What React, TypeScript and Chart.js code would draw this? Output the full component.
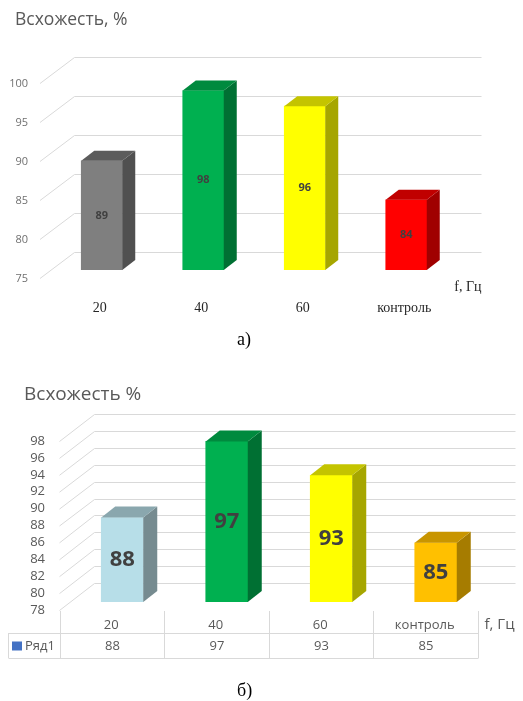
import React, { useEffect, useRef } from 'react';
import { Chart, registerables } from 'chart.js';

Chart.register(...registerables);

// ---------- data ----------
const categories = ['20', '40', '60', 'контроль'];
const valuesA = [89, 98, 96, 84];
const valuesB = [88, 97, 93, 85];
const yMinA = 75;
const yMaxA = 100;
const yStepA = 5;
const yMinB = 78;
const yMaxB = 98;
const yStepB = 2;
const titleA = 'Всхожесть, %';
const titleB = 'Всхожесть %';
const axisUnit = 'f, Гц';
const seriesName = 'Ряд1';
const captionA = 'а)';
const captionB = 'б)';

// ---------- styles ----------
const frontA = ['#7f7f7f', '#00b050', '#ffff00', '#ff0000'];
const sideA = ['#505050', '#007033', '#a6a600', '#a00000'];
const topA = ['#5c5c5c', '#008a3e', '#c4c400', '#c00000'];
const frontB = ['#b7dee8', '#00b050', '#ffff00', '#ffc000'];
const sideB = ['#768b90', '#007033', '#a6a600', '#a67c00'];
const topB = ['#8aa7ae', '#008a3e', '#c4c400', '#c89500'];

const SANS = '"Open Sans", "Noto Sans", "DejaVu Sans", sans-serif';
const SERIF = '"Liberation Serif", "DejaVu Serif", serif';

type Geo = {
  backDx: number; backDy: number; frontDx: number; frontDy: number;
  depthDx: number; depthDy: number; rightExtra: number;
};

function make3DPlugin(id: string, geo: Geo, sides: string[], tops: string[], labelFont: string, extraDraw?: (chart: any) => void) {
  return {
    id,
    beforeDatasetsDraw(chart: any) {
      const { ctx, chartArea } = chart;
      const y = chart.scales.y;
      ctx.save();
      ctx.strokeStyle = '#d9d9d9';
      ctx.lineWidth = 1;
      y.ticks.forEach((t: any) => {
        const py = y.getPixelForValue(t.value);
        const bx0 = chartArea.left + geo.backDx;
        const by = Math.round(py + geo.backDy) + 0.5;
        ctx.beginPath();
        ctx.moveTo(bx0, by);
        ctx.lineTo(chartArea.right + geo.backDx + geo.rightExtra, by);
        ctx.stroke();
        ctx.beginPath();
        ctx.moveTo(chartArea.left + geo.frontDx, py + geo.frontDy);
        ctx.lineTo(bx0, by);
        ctx.stroke();
      });
      ctx.restore();
    },
    afterDatasetsDraw(chart: any) {
      const { ctx } = chart;
      const meta = chart.getDatasetMeta(0);
      const data = chart.data.datasets[0].data;
      ctx.save();
      meta.data.forEach((bar: any, i: number) => {
        const { x, y, base, width } = bar.getProps(['x', 'y', 'base', 'width'], true);
        const l = x - width / 2;
        const r = x + width / 2;
        // side face
        ctx.fillStyle = sides[i];
        ctx.beginPath();
        ctx.moveTo(r, y);
        ctx.lineTo(r + geo.depthDx, y + geo.depthDy);
        ctx.lineTo(r + geo.depthDx, base + geo.depthDy);
        ctx.lineTo(r, base);
        ctx.closePath();
        ctx.fill();
        // top face
        ctx.fillStyle = tops[i];
        ctx.beginPath();
        ctx.moveTo(l, y);
        ctx.lineTo(l + geo.depthDx, y + geo.depthDy);
        ctx.lineTo(r + geo.depthDx, y + geo.depthDy);
        ctx.lineTo(r, y);
        ctx.closePath();
        ctx.fill();
        // value label
        ctx.fillStyle = '#404040';
        ctx.font = labelFont;
        ctx.textAlign = 'center';
        ctx.textBaseline = 'middle';
        ctx.fillText(String(data[i]), x, (y + base) / 2);
      });
      ctx.restore();
      if (extraDraw) extraDraw(chart);
    },
  };
}

function buildConfig(p: {
  values: number[]; fronts: string[]; sides: string[]; tops: string[];
  yMin: number; yMax: number; yStep: number; barW: number;
  pad: { top: number; right: number; bottom: number };
  yWidth: number; xHeight: number;
  yFont: any; yColor: string; yPad: number; yLabelOffset: number;
  xFont: any; xColor: string; xPad: number; xLabelOffset: number;
  geo: Geo; labelFont: string; extraDraw: (chart: any) => void; id: string;
}) {
  return {
    type: 'bar' as const,
    data: {
      labels: categories,
      datasets: [{
        data: p.values,
        base: p.yMin,
        backgroundColor: p.fronts,
        borderWidth: 0,
        barThickness: p.barW,
      }],
    },
    options: {
      responsive: false,
      animation: false as const,
      devicePixelRatio: 1,
      layout: { padding: { top: p.pad.top, right: p.pad.right, bottom: p.pad.bottom, left: 0 } },
      plugins: {
        legend: { display: false },
        tooltip: { enabled: false },
        title: { display: false },
      },
      scales: {
        x: {
          grid: { display: false, drawTicks: false },
          border: { display: false },
          ticks: {
            font: p.xFont, color: p.xColor, padding: p.xPad, labelOffset: p.xLabelOffset,
            maxRotation: 0, autoSkip: false,
          },
          afterFit: (s: any) => { s.height = p.xHeight; },
        },
        y: {
          min: p.yMin,
          max: p.yMax,
          grid: { display: false, drawTicks: false },
          border: { display: false },
          ticks: {
            stepSize: p.yStep, font: p.yFont, color: p.yColor, padding: p.yPad,
            labelOffset: p.yLabelOffset, autoSkip: false,
          },
          afterFit: (s: any) => { s.width = p.yWidth; },
        },
      },
    },
    plugins: [make3DPlugin(p.id, p.geo, p.sides, p.tops, p.labelFont, p.extraDraw)],
  };
}

const geoA: Geo = { backDx: 23.5, backDy: -18, frontDx: -11, frontDy: 8.5, depthDx: 13, depthDy: -10, rightExtra: 1 };
const geoB: Geo = { backDx: 24.5, backDy: -19, frontDx: -10.5, frontDy: 8.5, depthDx: 14, depthDy: -11, rightExtra: 3 };

function drawExtrasA(chart: any) {
  const { ctx, chartArea } = chart;
  ctx.save();
  ctx.fillStyle = '#595959';
  ctx.font = `17.5px ${SANS}`;
  ctx.textAlign = 'left';
  ctx.textBaseline = 'middle';
  ctx.fillText(titleA, 15, 20);
  ctx.fillStyle = '#262626';
  ctx.font = `14px ${SERIF}`;
  ctx.textAlign = 'right';
  ctx.fillText(axisUnit, chartArea.right + geoA.backDx + geoA.rightExtra, chartArea.bottom + 17);
  ctx.restore();
}

function drawExtrasB(chart: any) {
  const { ctx, chartArea } = chart;
  const x = chart.scales.x;
  const y = chart.scales.y;
  const n = categories.length;
  const bw = (chartArea.right - chartArea.left) / n;
  const top = Math.round(y.getPixelForValue(yMinB) + geoB.frontDy);
  const row1 = 22;
  const row2 = 25;
  const tableLeft = 8.5;
  const colX = (i: number) => Math.round(x.getPixelForValue(0) - bw / 2 + i * bw + geoB.frontDx) + 0.5;
  ctx.save();
  // title
  ctx.fillStyle = '#595959';
  ctx.font = `19px ${SANS}`;
  ctx.textAlign = 'left';
  ctx.textBaseline = 'middle';
  ctx.fillText(titleB, 24, 35);
  // table lines
  ctx.strokeStyle = '#d9d9d9';
  ctx.lineWidth = 1;
  ctx.beginPath();
  for (let i = 0; i <= n; i++) {
    ctx.moveTo(colX(i), top);
    ctx.lineTo(colX(i), top + row1 + row2);
  }
  ctx.moveTo(tableLeft, top + row1 + 0.5);
  ctx.lineTo(colX(n), top + row1 + 0.5);
  ctx.moveTo(tableLeft, top + row1 + row2 + 0.5);
  ctx.lineTo(colX(n), top + row1 + row2 + 0.5);
  ctx.moveTo(tableLeft, top + row1);
  ctx.lineTo(tableLeft, top + row1 + row2);
  ctx.stroke();
  // series row
  const ry = top + row1 + row2 / 2 + 0.5;
  ctx.fillStyle = '#4472c4';
  ctx.fillRect(12, ry - 4.5, 10, 9);
  ctx.fillStyle = '#595959';
  ctx.font = `13px ${SANS}`;
  ctx.textAlign = 'left';
  ctx.fillText(seriesName, 25, ry);
  ctx.textAlign = 'center';
  valuesB.forEach((v, i) => {
    ctx.fillText(String(v), (colX(i) + colX(i + 1)) / 2, ry);
  });
  // unit label
  ctx.font = `15px ${SANS}`;
  ctx.textAlign = 'left';
  ctx.fillText(axisUnit, colX(n) + 6, top + row1 / 2 + 3);
  ctx.restore();
}

function ChartCanvas({ config, top, height }: { config: any; top: number; height: number }) {
  const ref = useRef<HTMLCanvasElement | null>(null);
  useEffect(() => {
    if (!ref.current) return;
    const chart = new Chart(ref.current, config);
    return () => chart.destroy();
  }, [config]);
  return (
    <canvas
      ref={ref}
      width={523}
      height={height}
      style={{ position: 'absolute', left: 0, top, width: 523, height }}
    />
  );
}

const configA = buildConfig({
  id: 'a3d',
  values: valuesA, fronts: frontA, sides: sideA, tops: topA,
  yMin: yMinA, yMax: yMaxA, yStep: yStepA, barW: 41,
  pad: { top: 75, right: 66, bottom: 0 },
  yWidth: 51, xHeight: 60,
  yFont: { family: SANS, size: 11 }, yColor: '#707070', yPad: 23, yLabelOffset: 9,
  xFont: { family: SERIF, size: 14 }, xColor: '#262626', xPad: 30, xLabelOffset: -2,
  geo: geoA, labelFont: `bold 11px ${SANS}`, extraDraw: drawExtrasA,
});

const configB = buildConfig({
  id: 'b3d',
  values: valuesB, fronts: frontB, sides: sideB, tops: topB,
  yMin: yMinB, yMax: yMaxB, yStep: yStepB, barW: 42,
  pad: { top: 73, right: 35, bottom: 0 },
  yWidth: 70, xHeight: 68,
  yFont: { family: SANS, size: 13 }, yColor: '#595959', yPad: 25, yLabelOffset: 8,
  xFont: { family: SANS, size: 13 }, xColor: '#595959', xPad: 15, xLabelOffset: -11,
  geo: geoB, labelFont: `bold 22px ${SANS}`, extraDraw: drawExtrasB,
});

export default function App() {
  const captionStyle: React.CSSProperties = {
    position: 'absolute',
    fontFamily: SERIF,
    fontSize: 18,
    color: '#000',
    lineHeight: '20px',
  };
  return (
    <div style={{ position: 'absolute', left: 0, top: 0, width: 523, height: 701, background: '#fff', overflow: 'hidden' }}>
      <ChartCanvas config={configA} top={0} height={330} />
      <div style={{ ...captionStyle, left: 237, top: 329 }}>{captionA}</div>
      <ChartCanvas config={configB} top={360} height={310} />
      <div style={{ ...captionStyle, left: 237, top: 680 }}>{captionB}</div>
    </div>
  );
}
